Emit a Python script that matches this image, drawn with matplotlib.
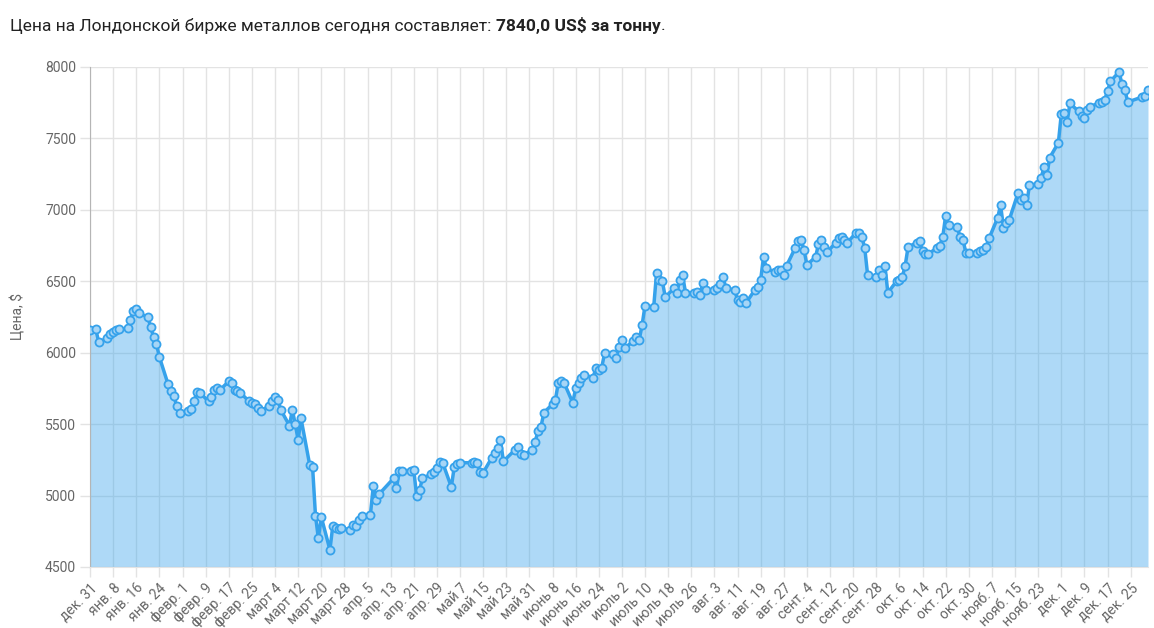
import matplotlib
matplotlib.use('Agg')
import matplotlib.pyplot as plt
import datetime as dt

# ---------------- data (LME copper, US$ per tonne) ----------------
months_ru = ['янв.', 'февр.', 'март', 'апр.', 'май', 'июнь',
             'июль', 'авг.', 'сент.', 'окт.', 'нояб.', 'дек.']

dec19_days = [31]
dec19_vals = [6160]

jan_days = [2, 3, 6, 7, 8, 9, 10, 13, 14, 15, 16, 17, 20, 21, 22, 23, 24, 27, 28, 29, 30, 31]
jan_vals = [6165, 6075, 6100, 6130, 6145, 6160, 6165, 6170, 6230, 6290, 6305, 6275, 6250, 6180,
            6110, 6060, 5970, 5780, 5735, 5700, 5625, 5575]

feb_days = [3, 4, 5, 6, 7, 10, 11, 12, 13, 14, 17, 18, 19, 20, 21, 24, 25, 26, 27, 28]
feb_vals = [5590, 5605, 5660, 5725, 5720, 5660, 5690, 5740, 5750, 5740, 5800, 5790, 5740, 5735,
            5720, 5660, 5650, 5640, 5610, 5590]

mar_days = [2, 3, 4, 5, 6, 9, 10, 11, 12, 13, 16, 17, 18, 19, 20, 23, 24, 25, 26, 27, 30, 31]
mar_vals = [5630, 5660, 5690, 5670, 5600, 5490, 5600, 5500, 5390, 5540, 5215, 5200, 4860, 4700,
            4850, 4620, 4790, 4770, 4765, 4775, 4760, 4795]

apr_days = [1, 2, 3, 6, 7, 8, 9, 14, 15, 16, 17, 20, 21, 22, 23, 24, 27, 28, 29, 30]
apr_vals = [4790, 4830, 4860, 4865, 5070, 4970, 5010, 5120, 5050, 5170, 5175, 5175, 5180, 4995,
            5040, 5120, 5150, 5165, 5190, 5235]

may_days = [1, 4, 5, 6, 7, 11, 12, 13, 14, 15, 18, 19, 20, 21, 22, 26, 27, 28, 29]
may_vals = [5230, 5060, 5200, 5220, 5230, 5230, 5235, 5225, 5165, 5160, 5265, 5300, 5335, 5390,
            5240, 5320, 5340, 5290, 5285]

jun_days = [1, 2, 3, 4, 5, 8, 9, 10, 11, 12, 15, 16, 17, 18, 19, 22, 23, 24, 25, 26, 29, 30]
jun_vals = [5320, 5375, 5455, 5480, 5580, 5640, 5670, 5790, 5800, 5790, 5650, 5750, 5790, 5820,
            5845, 5825, 5890, 5880, 5895, 5995, 5990, 5965]

jul_days = [1, 2, 3, 6, 7, 8, 9, 10, 13, 14, 15, 16, 17, 20, 21, 22, 23, 24, 27, 28, 29, 30, 31]
jul_vals = [6040, 6090, 6035, 6080, 6110, 6090, 6195, 6330, 6320, 6560, 6510, 6500, 6390, 6450,
            6420, 6510, 6545, 6420, 6420, 6425, 6405, 6490, 6440]

aug_days = [3, 4, 5, 6, 7, 10, 11, 12, 13, 14, 17, 18, 19, 20, 21, 24, 25, 26, 27, 28, 31]
aug_vals = [6440, 6450, 6480, 6530, 6450, 6440, 6370, 6355, 6380, 6350, 6440, 6460, 6510, 6670,
            6590, 6565, 6580, 6580, 6545, 6610, 6735]

sep_days = [1, 2, 3, 4, 7, 8, 9, 10, 11, 14, 15, 16, 17, 18, 21, 22, 23, 24, 25, 28, 29, 30]
sep_vals = [6780, 6790, 6720, 6615, 6670, 6760, 6790, 6740, 6705, 6770, 6800, 6810, 6790, 6770,
            6840, 6840, 6810, 6735, 6545, 6530, 6580, 6545]

oct_days = [1, 2, 5, 6, 7, 8, 9, 12, 13, 14, 15, 16, 19, 20, 21, 22, 23, 26, 27, 28, 29, 30]
oct_vals = [6610, 6420, 6500, 6510, 6530, 6610, 6740, 6770, 6780, 6710, 6690, 6690, 6735, 6750,
            6810, 6960, 6895, 6880, 6810, 6790, 6700, 6700]

nov_days = [2, 3, 4, 5, 6, 9, 10, 11, 12, 13, 16, 17, 18, 19, 20, 23, 24, 25, 26, 27, 30]
nov_vals = [6700, 6715, 6720, 6740, 6800, 6945, 7035, 6875, 6905, 6930, 7115, 7070, 7085, 7035,
            7175, 7180, 7220, 7300, 7245, 7365, 7470]

dec_days = [1, 2, 3, 4, 7, 8, 9, 10, 11, 14, 15, 16, 17, 18, 21, 22, 23, 24, 29, 30, 31]
dec_vals = [7670, 7680, 7615, 7745, 7690, 7660, 7645, 7700, 7720, 7750, 7755, 7770, 7830, 7900,
            7965, 7880, 7840, 7755, 7790, 7800, 7840]

y_ticks = [4500, 5000, 5500, 6000, 6500, 7000, 7500, 8000]
title_normal = 'Цена на Лондонской бирже металлов сегодня составляет: '
title_bold = '7840,0 US$ за тонну'
title_end = '.'
y_label = 'Цена, $'

# ---------------- assemble ----------------
blocks = [(2019, 12, dec19_days, dec19_vals), (2020, 1, jan_days, jan_vals),
          (2020, 2, feb_days, feb_vals), (2020, 3, mar_days, mar_vals),
          (2020, 4, apr_days, apr_vals), (2020, 5, may_days, may_vals),
          (2020, 6, jun_days, jun_vals), (2020, 7, jul_days, jul_vals),
          (2020, 8, aug_days, aug_vals), (2020, 9, sep_days, sep_vals),
          (2020, 10, oct_days, oct_vals), (2020, 11, nov_days, nov_vals),
          (2020, 12, dec_days, dec_vals)]
dates, values = [], []
for yr, mo, ds, vs in blocks:
    for d, v in zip(ds, vs):
        dates.append(dt.datetime(yr, mo, d))
        values.append(v)

plt.rcParams['font.family'] = ['Roboto', 'DejaVu Sans']

W, H = 1154, 628
fig = plt.figure(figsize=(W / 100, H / 100), dpi=100)
ax = fig.add_axes([90 / W, 61 / H, (1148 - 90) / W, (567 - 67) / H])

blue = '#36a2eb'
grid_c = '#e3e3e3'
text_c = '#666666'

start = dt.datetime(2019, 12, 31)
end = dt.datetime(2020, 12, 31)
ax.fill_between(dates, values, 4500, color=blue, alpha=0.4, linewidth=0, zorder=2)
ax.plot(dates, values, color=blue, linewidth=2.5, zorder=3,
        marker='o', markersize=5.8, markerfacecolor='#a6d5f6',
        markeredgecolor=blue, markeredgewidth=1.3, solid_joinstyle='round')

ax.set_xlim(start, end)
ax.set_ylim(4500, 8000)

ticks = []
t = start
while t <= end:
    ticks.append(t)
    t += dt.timedelta(days=8)
ax.set_xticks(ticks)
ax.set_xticklabels([f'{months_ru[d.month - 1]} {d.day}' for d in ticks],
                   rotation=45, ha='right', va='top', rotation_mode='anchor')
ax.set_yticks(y_ticks)
ax.set_yticklabels([str(v) for v in y_ticks])

ax.grid(True, color=grid_c, linewidth=1, zorder=0)
ax.set_axisbelow(True)
for s in ['top', 'right']:
    ax.spines[s].set_visible(False)
ax.spines['left'].set_color('#b5b5b5')
ax.spines['bottom'].set_color(grid_c)
ax.tick_params(axis='both', colors=grid_c, labelcolor=text_c, labelsize=10, length=7, width=1)
ax.tick_params(axis='x', pad=3)
ax.tick_params(axis='y', pad=3)
ax.set_ylabel(y_label, color=text_c, fontsize=10, labelpad=14)

# title with bold part
fig.canvas.draw()
r = fig.canvas.get_renderer()
ty = 1 - 26 / H
x0 = 10 / W
fs = 12.5
t1 = fig.text(x0, ty, title_normal, fontsize=fs, color='#222222', va='center')
bb = t1.get_window_extent(r)
t2 = fig.text(bb.x1 / W, ty, title_bold, fontsize=fs, color='#222222', va='center', fontweight='bold')
bb2 = t2.get_window_extent(r)
fig.text(bb2.x1 / W, ty, title_end, fontsize=fs, color='#222222', va='center')

fig.savefig('out.png', dpi=100)
